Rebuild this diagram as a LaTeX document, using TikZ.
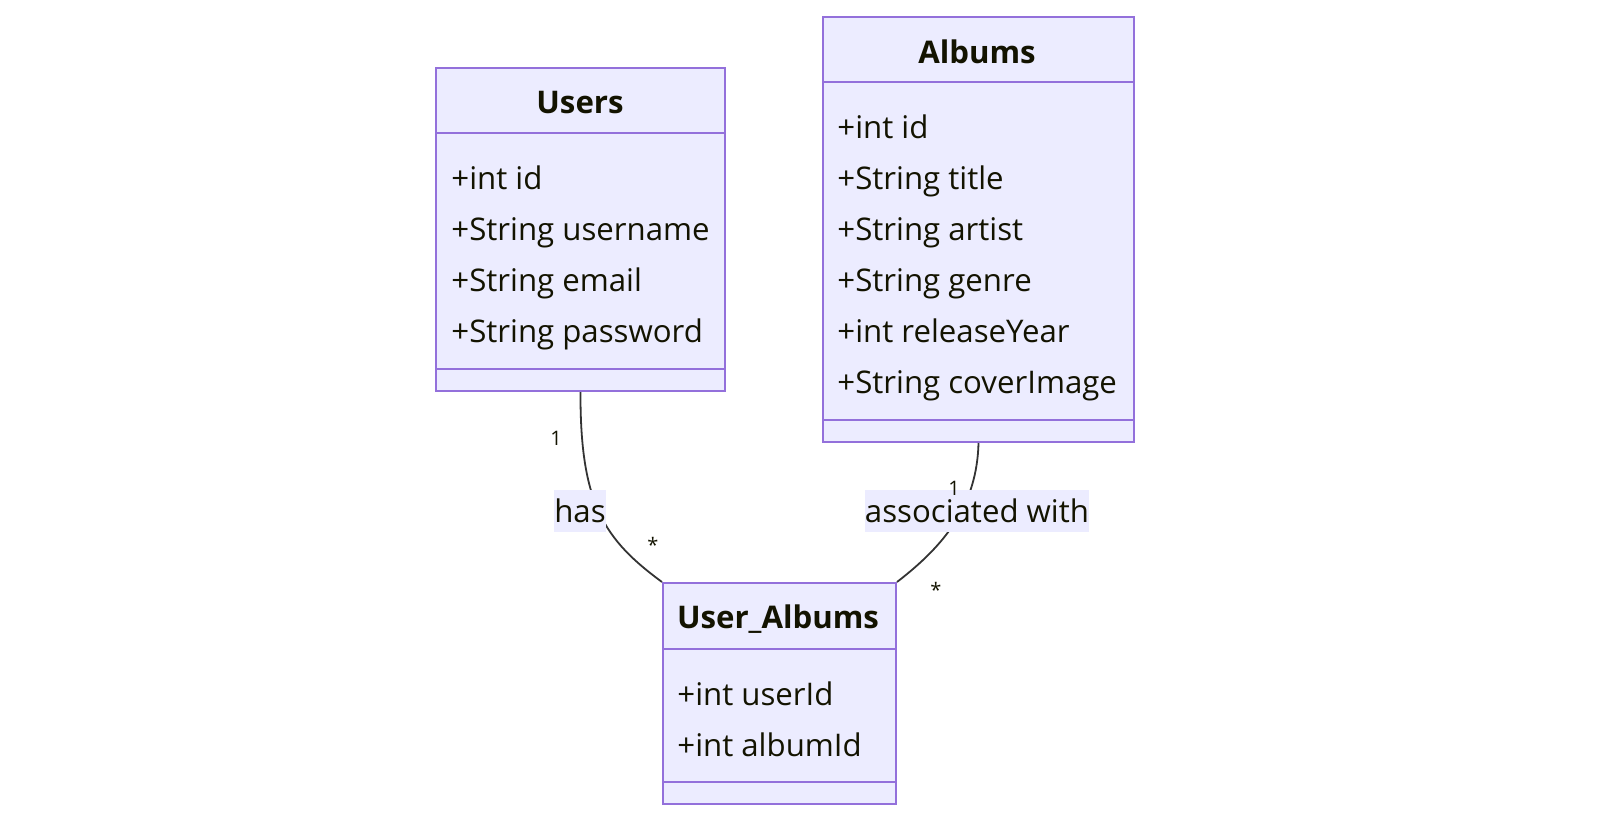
\documentclass[tikz,border=0pt]{standalone}
\usepackage{fontspec}
\setmainfont{Open Sans}
\definecolor{classfill}{HTML}{ECECFF}
\definecolor{classline}{HTML}{9370DB}
\definecolor{edgeline}{HTML}{333333}
\definecolor{txt}{HTML}{131300}
\tikzset{
  classbox/.style={draw=classline, fill=classfill, line width=1pt, inner sep=0pt, anchor=north west},
  divider/.style={draw=classline, line width=1pt},
  classtitle/.style={font=\fontsize{15.6}{18}\selectfont\bfseries, text=txt, inner sep=0pt},
  attr/.style={font=\fontsize{15.6}{18}\selectfont, text=txt, inner sep=0pt, anchor=base west},
  edge/.style={draw=edgeline, line width=0.9pt},
  edgelabel/.style={font=\fontsize{15.6}{18}\selectfont, text=txt, fill=classfill, inner xsep=0pt, inner ysep=0pt, minimum height=21pt},
  mult/.style={font=\fontsize{10}{12}\selectfont, text=txt, inner sep=0pt}
}
\begin{document}
\begin{tikzpicture}[x=0.5pt,y=-0.5pt]
\useasboundingbox (0,0) rectangle (1600,836);

% class boxes
\node[classbox, minimum width=144.5pt, minimum height=161.5pt] (users) at (435,67) {};
\node[classbox, minimum width=155.5pt, minimum height=212.5pt] (albums) at (822,16) {};
\node[classbox, minimum width=116.5pt, minimum height=110.5pt] (ua) at (662,582) {};

% dividers
\draw[divider] (users.west |- 0,133) -- (users.east |- 0,133);
\draw[divider] (users.west |- 0,369) -- (users.east |- 0,369);
\draw[divider] (albums.west |- 0,82) -- (albums.east |- 0,82);
\draw[divider] (albums.west |- 0,420) -- (albums.east |- 0,420);
\draw[divider] (ua.west |- 0,649) -- (ua.east |- 0,649);
\draw[divider] (ua.west |- 0,782) -- (ua.east |- 0,782);

% titles
\node[classtitle] (usersT) at (580,103) {Users};
\node[classtitle] (albumsT) at (977,52) {Albums};
\node[classtitle] (uaT) at (778,619) {User\_Albums};

% attributes
\node[attr] (u1) at (451,189) {+int id};
\node[attr] (u2) at (451,240) {+String username};
\node[attr] (u3) at (451,291) {+String email};
\node[attr] (u4) at (451,342) {+String password};

\node[attr] (a1) at (837,138) {+int id};
\node[attr] (a2) at (837,189) {+String title};
\node[attr] (a3) at (837,240) {+String artist};
\node[attr] (a4) at (837,291) {+String genre};
\node[attr] (a5) at (837,342) {+int releaseYear};
\node[attr] (a6) at (837,393) {+String coverImage};

\node[attr] (ua1) at (677,705) {+int userId};
\node[attr] (ua2) at (677,756) {+int albumId};

% relations
\draw[edge] (users.south) .. controls (580,505) and (605,540) .. (ua.north west);
\draw[edge] (albums.south) .. controls (977,505) and (945,545) .. (ua.north east);

\node[edgelabel] (lhas) at (580,511) {has};
\node[edgelabel] (lassoc) at (977,511) {associated with};

\node[mult] (m1) at (556,438) {1};
\node[mult] (m2) at (653,545) {*};
\node[mult] (m3) at (954,488) {1};
\node[mult] (m4) at (936,590) {*};
\end{tikzpicture}
\end{document}
